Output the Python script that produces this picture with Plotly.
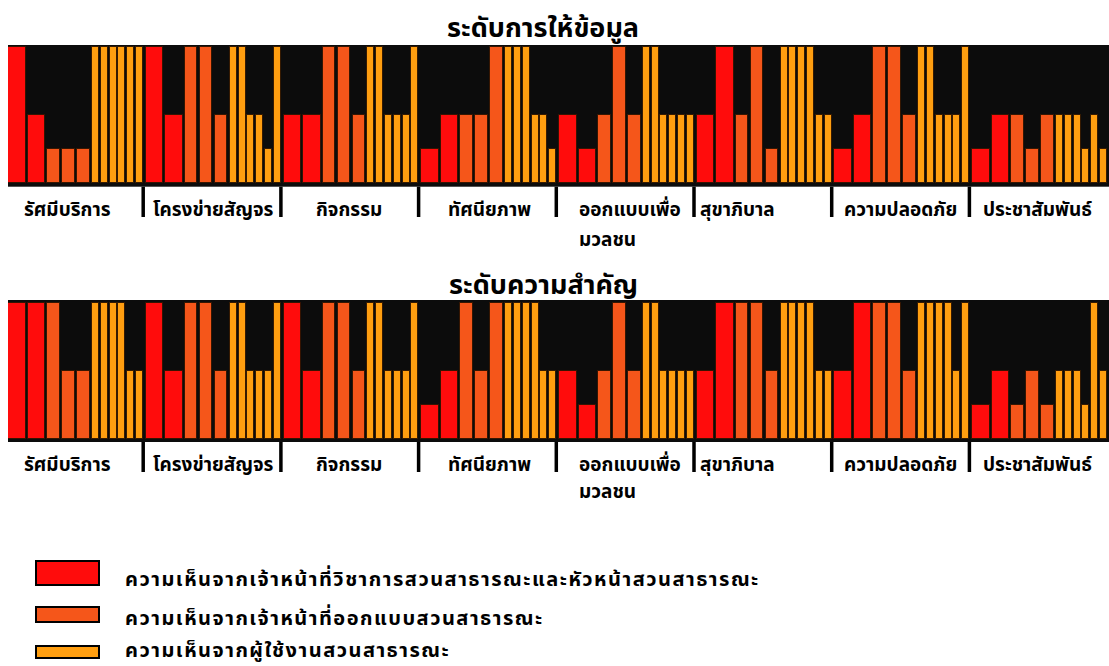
import plotly.graph_objects as go
from plotly.subplots import make_subplots

# ---------------- data ----------------
groups = ["รัศมีบริการ", "โครงข่ายสัญจร", "กิจกรรม", "ทัศนียภาพ",
          "ออกแบบเพื่อ<br>มวลชน", "สุขาภิบาล", "ความปลอดภัย", "ประชาสัมพันธ์"]
series_names = ["ความเห็นจากเจ้าหน้าที่วิชาการสวนสาธารณะและหัวหน้าสวนสาธารณะ",
                "ความเห็นจากเจ้าหน้าที่ออกแบบสวนสาธารณะ",
                "ความเห็นจากผู้ใช้งานสวนสาธารณะ"]
titles = ["ระดับการให้ข้อมูล", "ระดับความสำคัญ"]

# panel 1: ระดับการให้ข้อมูล (per group: 2 / 3 / 6 respondents)
info_academic = [4, 2, 4, 2, 2, 2, 1, 2, 2, 1, 2, 4, 1, 2, 1, 2]
info_designer = [1, 1, 1, 4, 4, 2, 4, 4, 2, 2, 2, 4, 2, 4, 2, 2, 4, 1, 4, 4, 2, 2, 1, 2]
info_user = [4, 4, 4, 4, 4, 4, 4, 4, 2, 2, 1, 4, 4, 4, 2, 2, 2, 4, 4, 4, 4, 2, 2, 1,
             4, 4, 2, 2, 2, 2, 4, 4, 4, 4, 2, 2, 4, 4, 2, 2, 2, 4, 2, 2, 2, 1, 2, 1]

# panel 2: ระดับความสำคัญ
imp_academic = [4, 4, 4, 2, 4, 2, 1, 2, 2, 1, 2, 4, 2, 4, 1, 2]
imp_designer = [4, 2, 2, 4, 4, 2, 4, 4, 2, 4, 2, 4, 2, 4, 2, 4, 4, 2, 4, 4, 2, 1, 2, 1]
imp_user = [4, 4, 4, 4, 2, 2, 4, 4, 2, 2, 2, 4, 4, 4, 2, 2, 2, 4, 4, 4, 4, 4, 2, 2,
            4, 4, 2, 2, 2, 2, 4, 4, 4, 4, 2, 2, 4, 4, 4, 4, 2, 4, 2, 2, 2, 1, 4, 2]

# ---------------- layout constants ----------------
W, H = 1109, 666
colors = ["#FF0C0C", "#F5561A", "#FF9E10"]
G = 137.7                                   # group pitch (x units)
slot_off = [[9, 28.5], [45.5, 60.5, 75.5], [87.5, 96.3, 105.1, 113.9, 122.7, 131.5]]
slot_w = [17.5, 12.5, 7.0]
# label placement per group: ("c", dx from group centre) or ("l", dx from group start)
label_pos = [("c", -9), ("c", 0), ("c", -2), ("c", 0), ("l", 18), ("l", 1), ("c", -2), ("c", -2)]
FONT = "Tahoma, 'Noto Sans Thai', 'Noto Sans', 'DejaVu Sans', sans-serif"
LAB = 19


def py(p):
    return 1 - p / H


fig = make_subplots(rows=2, cols=1)
panels = [(info_academic, info_designer, info_user), (imp_academic, imp_designer, imp_user)]
for r, panel in enumerate(panels, start=1):
    for s, vals in enumerate(panel):
        n = len(slot_off[s])
        xs = [g * G + slot_off[s][i] for g in range(len(groups)) for i in range(n)]
        fig.add_trace(go.Bar(
            x=xs, y=vals, width=slot_w[s], marker=dict(color=colors[s],
            line=dict(color="rgba(45,20,0,0.9)", width=1)),
            name=series_names[s], showlegend=False), row=r, col=1)

xdom = [8 / W, 1]
fig.update_xaxes(range=[0, 1101], domain=xdom, visible=False, fixedrange=True)
fig.update_layout(
    yaxis=dict(domain=[py(186.7), py(45)], range=[-0.1, 4.068], visible=False),
    yaxis2=dict(domain=[py(442), py(300)], range=[-0.09, 4.09], visible=False),
)

shapes, ann = [], []
panel_px = [(186.7, 217, 210, 240, 28), (442, 472, 465, 492, 285)]
for r, (yb, ytick, ylab, ylab2, ytitle) in enumerate(panel_px):
    xr = "x" if r == 0 else "x2"
    for k in range(1, len(groups)):
        shapes.append(dict(type="line", xref=xr, yref="paper", x0=k * G - 2.5, x1=k * G - 2.5,
                           y0=py(yb), y1=py(ytick), line=dict(color="black", width=3.5)))
    for g, name in enumerate(groups):
        mode, dx = label_pos[g]
        lines = name.split("<br>")
        for li, t in enumerate(lines):
            yy = ylab if li == 0 else ylab2
            if mode == "c":
                xx, anc = g * G + 68 + dx, "center"
            else:
                xx, anc = g * G + dx, "left"
            ann.append(dict(text="<b>" + t + "</b>", xref=xr, yref="paper", x=xx, y=py(yy),
                            xanchor=anc, yanchor="middle", showarrow=False,
                            font=dict(family=FONT, size=LAB, color="black")))
    ann.append(dict(text="<b>" + titles[r] + "</b>", xref="paper", yref="paper", x=543 / W, y=py(ytitle),
                    xanchor="center", yanchor="middle", showarrow=False,
                    font=dict(family=FONT, size=27, color="black")))

# legend drawn as swatches + text
leg_rects = [(561, 585), (607, 622), (646, 658)]
leg_text_y = [580, 619, 651]
for s in range(3):
    y0, y1 = leg_rects[s]
    shapes.append(dict(type="rect", xref="paper", yref="paper", x0=36 / W, x1=99 / W,
                       y0=py(y1), y1=py(y0), fillcolor=colors[s], line=dict(color="black", width=2)))
    ann.append(dict(text='<span style="letter-spacing:1.5px"><b>' + series_names[s] + "</b></span>",
                    xref="paper", yref="paper", x=123 / W, y=py(leg_text_y[s]),
                    xanchor="left", yanchor="middle", showarrow=False,
                    font=dict(family=FONT, size=20, color="black")))

fig.update_layout(
    width=W, height=H, margin=dict(l=0, r=0, t=0, b=0),
    paper_bgcolor="white", plot_bgcolor="#0C0C0C",
    barmode="overlay", bargap=0, shapes=shapes, annotations=ann,
    font=dict(family=FONT),
)
fig.write_html("out.html", config={"displayModeBar": False},
               post_script="document.body.style.margin='0';document.body.style.overflow='hidden';")
